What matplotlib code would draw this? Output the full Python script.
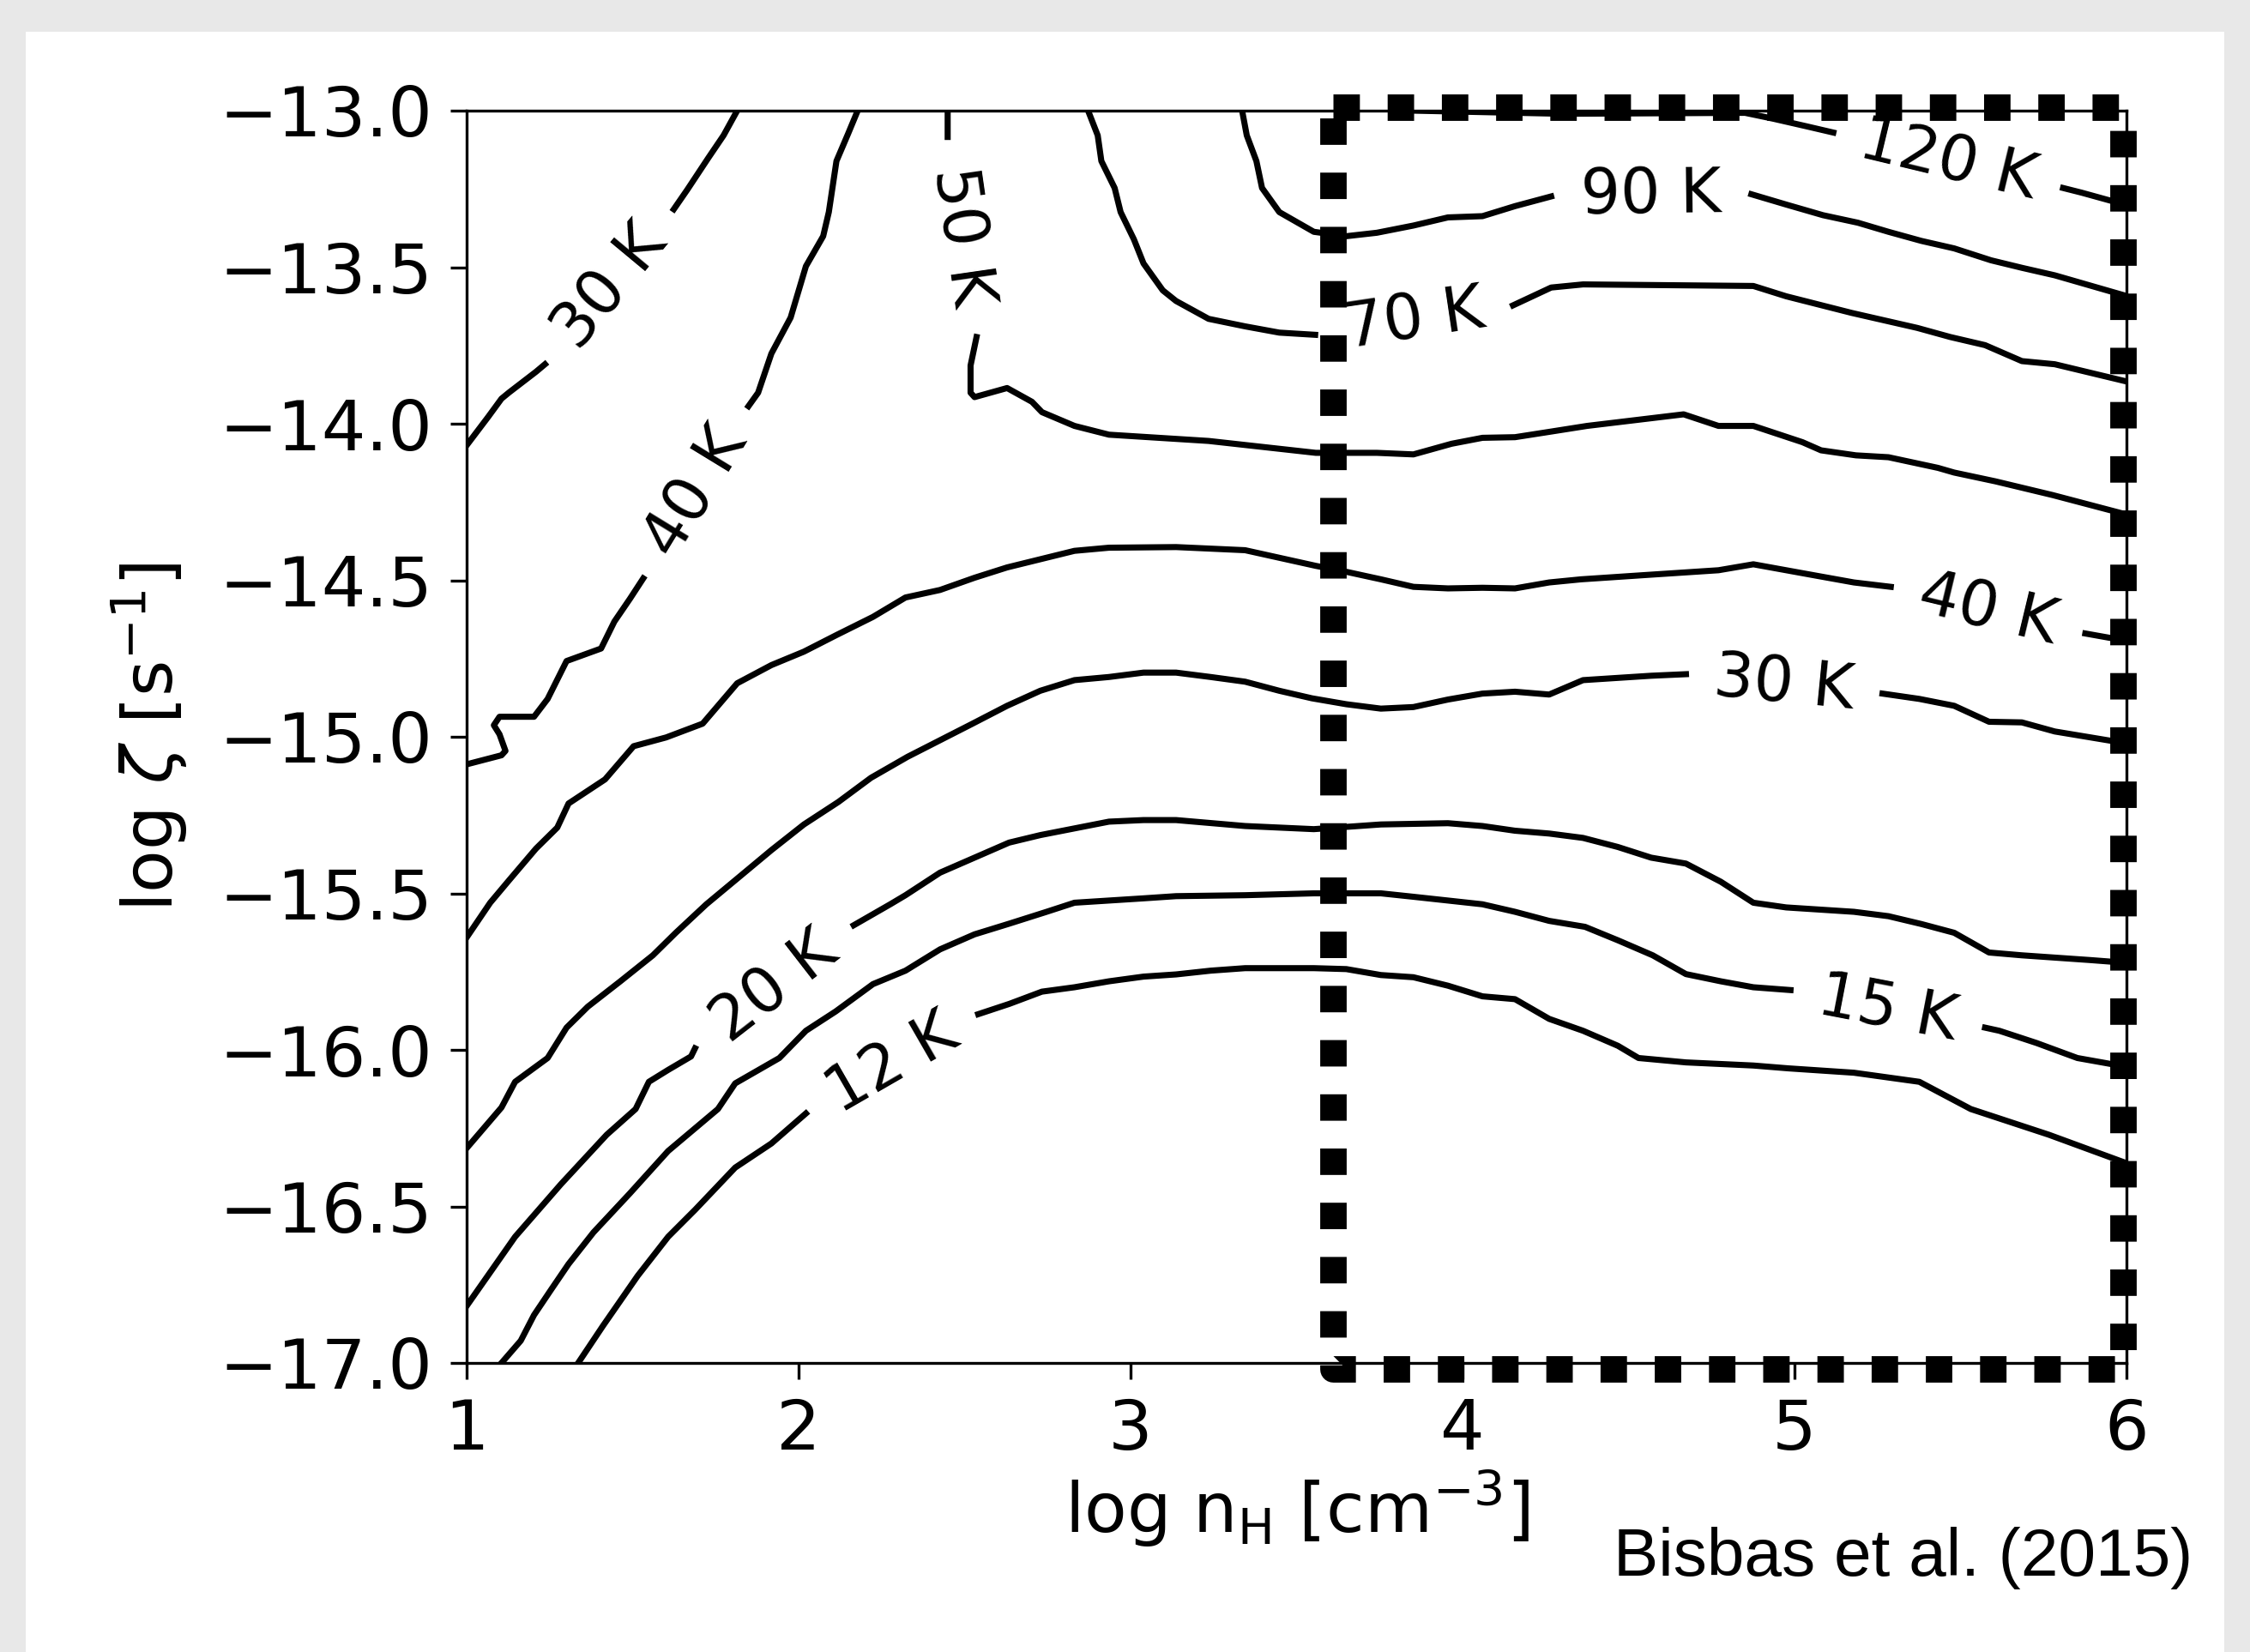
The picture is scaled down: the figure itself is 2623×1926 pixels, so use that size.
import math
import matplotlib.pyplot as plt
from matplotlib.patches import Rectangle

nan = float('nan')

# temperature contours (log n_H, log zeta); nan marks the label gap
t30a_x = [1.0, 1.065, 1.105, 1.128, 1.209, 1.236, nan, 1.624, 1.665, 1.728, 1.774, 1.815]
t30a_y = [-14.069, -13.978, -13.92, -13.90, -13.834, -13.81, nan, -13.315, -13.252, -13.151, -13.079, -13.0]

t40a_x = [1.0, 1.105, 1.117, 1.099, 1.082, 1.099, 1.203, 1.244, 1.301, 1.405, 1.445, 1.492, 1.532, nan,
          1.849, 1.878, 1.918, 1.976, 2.022, 2.074, 2.091, 2.114, 2.149, 2.178]
t40a_y = [-15.088, -15.059, -15.045, -14.992, -14.963, -14.936, -14.936, -14.879, -14.758, -14.718, -14.632,
          -14.559, -14.494, nan, -13.944, -13.901, -13.776, -13.661, -13.497, -13.401, -13.324, -13.161,
          -13.074, -13.0]

t50_x = [2.449, 2.449, nan, 2.536, 2.518, 2.518, 2.530, 2.628, 2.703, 2.733, 2.831, 2.935, 3.235, 3.558,
         3.742, 3.852, 3.967, 4.060, 4.158, 4.261, 4.375, 4.666, 4.771, 4.876, 5.024, 5.080, 5.185, 5.283,
         5.432, 5.481, 5.605, 5.778, 6.0]
t50_y = [-13.0, -13.084, nan, -13.723, -13.814, -13.901, -13.915, -13.886, -13.930, -13.963, -14.007, -14.035,
         -14.055, -14.093, -14.093, -14.098, -14.064, -14.045, -14.043, -14.026, -14.007, -13.970, -14.007,
         -14.007, -14.059, -14.085, -14.101, -14.107, -14.141, -14.156, -14.184, -14.228, -14.29]

t70_x = [2.872, 2.901, 2.912, 2.952, 2.970, 3.010, 3.039, 3.097, 3.137, 3.235, 3.345, 3.448, 3.556, nan,
         4.152, 4.267, 4.363, 4.876, 4.975, 5.172, 5.370, 5.469, 5.574, 5.685, 5.784, 6.0]
t70_y = [-13.0, -13.079, -13.161, -13.247, -13.324, -13.411, -13.488, -13.574, -13.608, -13.665, -13.689,
         -13.709, -13.716, nan, -13.622, -13.565, -13.555, -13.560, -13.593, -13.646, -13.694, -13.723,
         -13.749, -13.800, -13.810, -13.865]

t90_x = [3.336, 3.350, 3.379, 3.396, 3.448, 3.552, 3.650, 3.742, 3.852, 3.956, 4.060, 4.158, 4.267, nan,
         4.870, 4.975, 5.086, 5.191, 5.283, 5.382, 5.481, 5.592, 5.685, 5.784, 6.0]
t90_y = [-13.0, -13.079, -13.161, -13.247, -13.324, -13.387, -13.401, -13.390, -13.367, -13.341, -13.337,
         -13.305, -13.274, nan, -13.267, -13.300, -13.334, -13.358, -13.387, -13.416, -13.440, -13.478,
         -13.502, -13.526, -13.592]

t120_x = [3.85, 4.3, 4.851, 4.937, 5.036, 5.117, nan, 5.809, 5.865, 5.964, 6.0]
t120_y = [-13.0, -13.01, -13.007, -13.026, -13.050, -13.070, nan, -13.247, -13.262, -13.291, -13.30]

t40b_x = [1.0, 1.071, 1.128, 1.209, 1.273, 1.307, 1.417, 1.503, 1.601, 1.711, 1.815, 1.918, 2.016, 2.114,
          2.224, 2.322, 2.426, 2.530, 2.628, 2.831, 2.935, 3.137, 3.345, 3.558, 3.650, 3.754, 3.852, 3.956,
          4.060, 4.158, 4.261, 4.357, 4.555, 4.771, 4.876, 4.975, 5.074, 5.179, 5.290, nan, 5.876, 5.950, 6.0]
t40b_y = [-15.641, -15.530, -15.458, -15.357, -15.290, -15.213, -15.136, -15.030, -15.002, -14.958, -14.829,
          -14.771, -14.728, -14.675, -14.617, -14.555, -14.531, -14.492, -14.459, -14.406, -14.396, -14.394,
          -14.404, -14.454, -14.473, -14.497, -14.521, -14.526, -14.524, -14.526, -14.507, -14.497, -14.483,
          -14.468, -14.449, -14.468, -14.487, -14.507, -14.521, nan, -14.670, -14.684, -14.69]

t30b_x = [1.0, 1.105, 1.146, 1.244, 1.301, 1.365, 1.463, 1.561, 1.630, 1.722, 1.815, 1.918, 2.016, 2.120,
          2.218, 2.328, 2.426, 2.524, 2.628, 2.728, 2.831, 2.935, 3.039, 3.137, 3.241, 3.345, 3.448, 3.546,
          3.650, 3.754, 3.852, 3.956, 4.060, 4.158, 4.261, 4.363, 4.568, 4.673, nan, 5.265, 5.376, 5.481,
          5.586, 5.685, 5.784, 6.0]
t30b_y = [-16.314, -16.184, -16.102, -16.026, -15.929, -15.862, -15.781, -15.698, -15.626, -15.535, -15.453,
          -15.362, -15.280, -15.208, -15.131, -15.064, -15.011, -14.958, -14.901, -14.853, -14.819, -14.809,
          -14.795, -14.795, -14.809, -14.824, -14.853, -14.877, -14.896, -14.910, -14.905, -14.881, -14.862,
          -14.856, -14.865, -14.819, -14.805, -14.800, nan, -14.862, -14.879, -14.901, -14.952, -14.954,
          -14.983, -15.021]

t20_x = [1.0, 1.146, 1.284, 1.422, 1.509, 1.549, 1.607, 1.676, 1.688, nan, 2.166, 2.276, 2.322, 2.426,
         2.530, 2.634, 2.728, 2.935, 3.039, 3.137, 3.345, 3.552, 3.754, 3.956, 4.060, 4.158, 4.261, 4.363,
         4.468, 4.568, 4.673, 4.778, 4.876, 4.975, 5.179, 5.283, 5.382, 5.481, 5.586, 5.685, 5.889, 6.0]
t20_y = [-16.818, -16.597, -16.429, -16.271, -16.189, -16.102, -16.064, -16.021, -15.995, nan, -15.602,
         -15.535, -15.506, -15.434, -15.386, -15.338, -15.314, -15.271, -15.266, -15.266, -15.285, -15.295,
         -15.280, -15.276, -15.285, -15.300, -15.309, -15.323, -15.352, -15.386, -15.405, -15.463, -15.530,
         -15.545, -15.559, -15.573, -15.598, -15.626, -15.689, -15.698, -15.713, -15.722]

t15_x = [1.105, 1.163, 1.203, 1.255, 1.307, 1.382, 1.492, 1.607, 1.757, 1.809, 1.942, 2.022, 2.112, 2.224,
         2.322, 2.426, 2.530, 2.634, 2.747, 2.831, 3.039, 3.137, 3.345, 3.552, 3.754, 3.852, 4.060, 4.158,
         4.261, 4.369, 4.468, 4.573, 4.673, 4.778, 4.876, 4.988, nan, 5.574, 5.617, 5.729, 5.852, 6.0]
t15_y = [-17.0, -16.929, -16.847, -16.765, -16.684, -16.583, -16.458, -16.323, -16.189, -16.107, -16.026,
         -15.939, -15.877, -15.790, -15.747, -15.679, -15.631, -15.597, -15.559, -15.530, -15.516, -15.509,
         -15.506, -15.500, -15.500, -15.511, -15.535, -15.559, -15.588, -15.607, -15.650, -15.698, -15.758,
         -15.781, -15.800, -15.809, nan, -15.929, -15.939, -15.978, -16.026, -16.054]

t12_x = [1.336, 1.411, 1.515, 1.607, 1.688, 1.809, 1.918, 2.022, nan, 2.541, 2.635, 2.733, 2.831, 2.935,
         3.039, 3.137, 3.241, 3.345, 3.552, 3.650, 3.754, 3.852, 3.956, 4.060, 4.158, 4.261, 4.363, 4.468,
         4.530, 4.673, 4.876, 4.981, 5.179, 5.376, 5.531, 5.766, 6.0]
t12_y = [-17.0, -16.881, -16.722, -16.597, -16.511, -16.376, -16.299, -16.203, nan, -15.886, -15.853,
         -15.814, -15.800, -15.781, -15.766, -15.759, -15.747, -15.739, -15.739, -15.742, -15.761, -15.768,
         -15.795, -15.829, -15.838, -15.901, -15.939, -15.987, -16.026, -16.040, -16.050, -16.059, -16.073,
         -16.102, -16.189, -16.271, -16.362]

contours = [
    ("30 K", t30a_x, t30a_y), ("40 K", t40a_x, t40a_y), ("50 K", t50_x, t50_y),
    ("70 K", t70_x, t70_y), ("90 K", t90_x, t90_y), ("120 K", t120_x, t120_y),
    ("40 K", t40b_x, t40b_y), ("30 K", t30b_x, t30b_y), ("20 K", t20_x, t20_y),
    ("15 K", t15_x, t15_y), ("12 K", t12_x, t12_y),
]

# dotted box around the high density region
box_x = [3.61, 5.99, 5.99, 3.61, 3.61]
box_y = [-12.99, -12.99, -17.02, -17.02, -12.99]

xticks = [1, 2, 3, 4, 5, 6]
yticks = [-13.0, -13.5, -14.0, -14.5, -15.0, -15.5, -16.0, -16.5, -17.0]

W, H = 2623, 1926
fig = plt.figure(figsize=(W / 300, H / 300), dpi=300)
fig.patch.set_facecolor('#e8e8e8')
fig.add_artist(Rectangle((30 / W, 0), (2593 - 30) / W, 1 - 37 / H, transform=fig.transFigure,
                         facecolor='white', edgecolor='none', zorder=0))

ax = fig.add_axes([544 / W, 1 - 1589 / H, (2479 - 544) / W, (1589 - 129) / H])
ax.set_xlim(1, 6)
ax.set_ylim(-17, -13)

for label, xs, ys in contours:
    ax.plot(xs, ys, color='black', lw=1.7)
    i = [k for k, v in enumerate(xs) if v != v][0]
    x0, y0, x1, y1 = xs[i - 1], ys[i - 1], xs[i + 1], ys[i + 1]
    p0 = ax.transData.transform((x0, y0))
    p1 = ax.transData.transform((x1, y1))
    ang = math.degrees(math.atan2(p1[1] - p0[1], p1[0] - p0[0]))
    if ang > 90:
        ang -= 180
    elif ang < -90:
        ang += 180
    ax.text((x0 + x1) / 2, (y0 + y1) / 2, label, fontsize=17.5, rotation=ang,
            rotation_mode='anchor', ha='center', va='center')

ax.plot(box_x, box_y, color='black', lw=7.4, linestyle=(0, (1, 1.05)), clip_on=False, zorder=5)

ax.set_xticks(xticks)
ax.set_yticks(yticks)
ax.tick_params(labelsize=19.5, length=4.6, width=0.8, pad=5)
for s in ax.spines.values():
    s.set_linewidth(0.8)

ax.set_xlabel(r'log n$_{\rm H}$ [cm$^{-3}$]', fontsize=19.5, labelpad=1)
ax.set_ylabel(r'log $\zeta$ [s$^{-1}$]', fontsize=19.5, labelpad=8)

fig.text(1881 / W, 1 - 1837 / H, 'Bisbas et al. (2015)', fontsize=18.8,
         family='Liberation Sans', ha='left', va='baseline')

fig.savefig('out.png', dpi=300, facecolor=fig.get_facecolor())
